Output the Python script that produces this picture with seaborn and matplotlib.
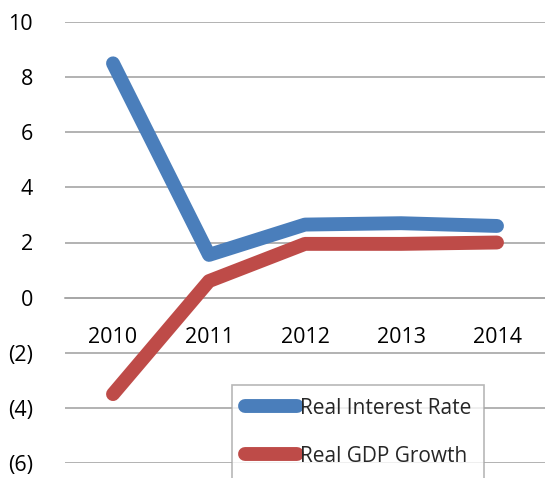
import matplotlib
matplotlib.use("Agg")
import matplotlib.pyplot as plt
from matplotlib.ticker import FuncFormatter, FixedLocator
import seaborn as sns
import pandas as pd
import numpy as np

years = ["2010", "2011", "2012", "2013", "2014"]
real_interest_rate = [8.5, 1.55, 2.65, 2.7, 2.6]
real_gdp_growth = [-3.5, 0.6, 1.95, 1.95, 2.0]
series_names = ["Real Interest Rate", "Real GDP Growth"]
colors = ["#4A7EBB", "#BE4B48"]

df = pd.DataFrame({
    "pos": list(range(len(years))) * 2,
    "value": real_interest_rate + real_gdp_growth,
    "series": [series_names[0]] * len(years) + [series_names[1]] * len(years),
})

sns.set_theme(style="white")
plt.rcParams["font.family"] = ["Open Sans", "DejaVu Sans"]

fig = plt.figure(figsize=(5.45, 4.78), dpi=100)
ax = fig.add_axes([65 / 545, 1 - 463 / 478, 1 - 65 / 545, (463 - 22) / 478])

sns.lineplot(data=df, x="pos", y="value", hue="series", hue_order=series_names,
             palette=colors, linewidth=10, solid_capstyle="round",
             solid_joinstyle="round", ax=ax, legend=True, zorder=3)

ax.set_xlim(-0.5, len(years) - 0.5)
ax.set_ylim(-6, 10)
ax.set_xlabel("")
ax.set_ylabel("")

grid_color = "#A6A6A6"
ax.set_yticks(np.arange(-6, 11, 2))
ax.yaxis.set_major_formatter(FuncFormatter(
    lambda v, _: f"({abs(int(v))})" if v < 0 else f"{int(v)}"))
ax.yaxis.grid(True, color=grid_color, linewidth=1.2, zorder=0)
ax.tick_params(axis="y", length=0, pad=23, labelsize=15.5, colors="black")

for s in ["top", "right", "left", "bottom"]:
    ax.spines[s].set_visible(False)
ax.spines["bottom"].set_visible(True)
ax.spines["bottom"].set_position(("data", 0))
ax.spines["bottom"].set_color(grid_color)
ax.spines["bottom"].set_linewidth(1.2)

ax.set_xticks(range(len(years)))
ax.set_xticklabels(years)
ax.xaxis.set_minor_locator(FixedLocator(np.arange(-0.5, len(years), 1.0)))
ax.tick_params(axis="x", which="major", length=0, pad=21, labelsize=15.5, colors="black")
ax.tick_params(axis="x", which="minor", length=6, width=1.2, color=grid_color, direction="out")

handles, labels = ax.get_legend_handles_labels()
for h in handles:
    h.set_linewidth(10)
    h.set_solid_capstyle("round")
leg = ax.legend(handles, labels, loc="upper left",
                bbox_to_anchor=(232 / 545, 1 - 385 / 478),
                bbox_transform=fig.transFigure, frameon=True, fancybox=False,
                fontsize=15, handlelength=2.5, handletextpad=0.15,
                labelspacing=1.3, borderpad=0.6, borderaxespad=0)
leg.get_frame().set_edgecolor(grid_color)
leg.get_frame().set_linewidth(1.2)

fig.savefig("out.png", dpi=100)
